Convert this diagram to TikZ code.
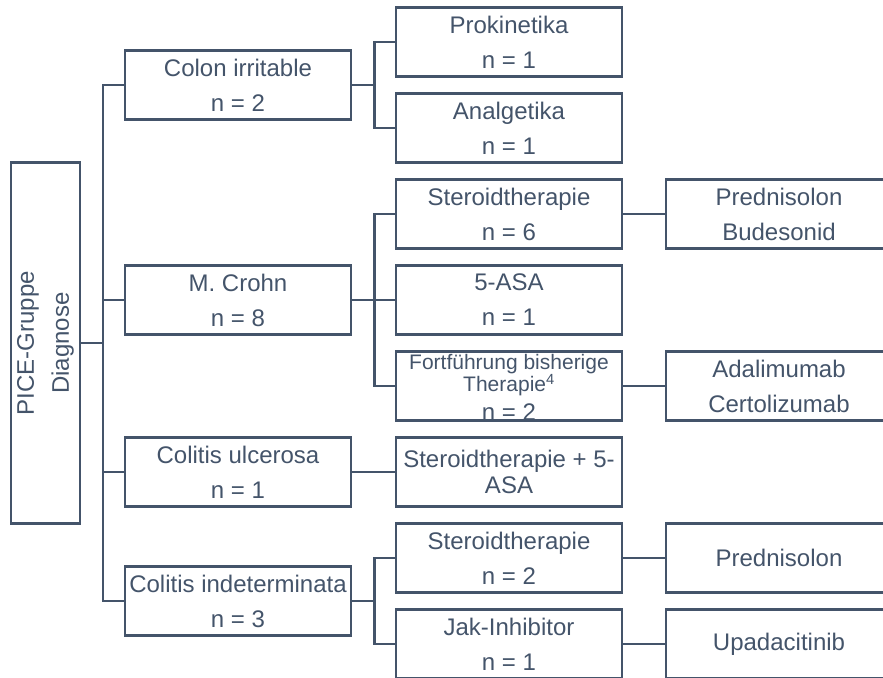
\documentclass[tikz,border=0pt]{standalone}
\usepackage{fontspec}
\setmainfont{Liberation Sans}
\usepackage{xcolor}
\usepackage{tikz}
\usetikzlibrary{positioning}
\definecolor{slate}{HTML}{44546A}

\begin{document}
\begin{tikzpicture}[x=1pt, y=-1pt,
                          box/.style={draw=slate, line width=2.6pt, text=slate, inner sep=0pt,
                                      minimum width=226pt, minimum height=69pt, align=center,
                                      font=\fontsize{24}{35}\selectfont},
                          tight/.style={box, font=\fontsize{24}{26}\selectfont},
                          small/.style={text=slate, inner sep=0pt, align=center,
                                        font=\fontsize{21}{22}\selectfont},
                          link/.style={slate, line width=2.6pt},
                         ]

\useasboundingbox (0,0) rectangle (883,677);

% root
\node[box, rotate=90, minimum width=361pt] (root) at (45.5,343) {PICE-Gruppe\\Diagnose};

% diagnoses
\node[box] (irritable) at (238,85) {Colon irritable\\n = 2};
\node[box] (crohn) at (238,300) {M. Crohn\\n = 8};
\node[box] (ulcerosa) at (238,472) {Colitis ulcerosa\\n = 1};
\node[box] (indet) at (238,601) {Colitis indeterminata\\n = 3};

% therapies
\node[box] (prokin) at (509,42) {Prokinetika\\n = 1};
\node[box] (analg) at (509,128) {Analgetika\\n = 1};
\node[box] (steroidA) at (509,214) {Steroidtherapie\\n = 6};
\node[box] (asa) at (509,300) {5-ASA\\n = 1};
\node[small] (fortText) at (509,387.5) {Fortführung bisherige\\Therapie\textsuperscript{4}\\[7pt]{\fontsize{24}{24}\selectfont n = 2}};
\node[box] (fort) at (509,386) {};
\node[tight] (steroidAsa) at (509,472) {Steroidtherapie + 5-\\ASA};
\node[box] (steroidB) at (509,558) {Steroidtherapie\\n = 2};
\node[box] (jak) at (509,644) {Jak-Inhibitor\\n = 1};

% drugs
\node[box] (predBud) at (779,214) {Prednisolon\\Budesonid};
\node[box] (adaCert) at (779,386) {Adalimumab\\Certolizumab};
\node[box] (pred) at (779,558) {Prednisolon};
\node[box] (upa) at (779,644) {Upadacitinib};

\coordinate (trunk) at (103,343);
\draw[link] (root.south) -- (trunk);
\draw[link] (trunk) |- (irritable.west);
\draw[link] (trunk) |- (crohn.west);
\draw[link] (trunk) |- (ulcerosa.west);
\draw[link] (trunk) |- (indet.west);

\draw[link] (irritable.east) -- ++(22,0) |- (prokin.west);
\draw[link] (irritable.east) -- ++(22,0) |- (analg.west);
\draw[link] (crohn.east) -- ++(22,0) |- (steroidA.west);
\draw[link] (crohn.east) -- (asa.west);
\draw[link] (crohn.east) -- ++(22,0) |- (fort.west);
\draw[link] (ulcerosa.east) -- (steroidAsa.west);
\draw[link] (indet.east) -- ++(22,0) |- (steroidB.west);
\draw[link] (indet.east) -- ++(22,0) |- (jak.west);

\draw[link] (steroidA.east) -- (predBud.west);
\draw[link] (fort.east) -- (adaCert.west);
\draw[link] (steroidB.east) -- (pred.west);
\draw[link] (jak.east) -- (upa.west);

\end{tikzpicture}
\end{document}
